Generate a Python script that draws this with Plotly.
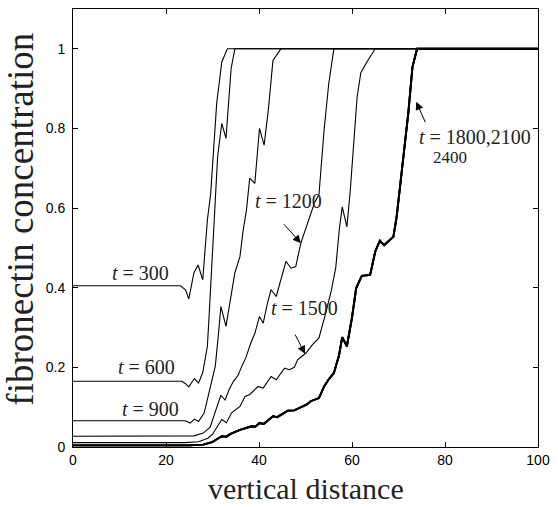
import plotly.graph_objects as go

# Fibronectin concentration profiles along the vertical distance at several times.
# Each profile: (distance, concentration) samples.
x_t300 = [0, 23.1, 24.2, 24.9, 26.0, 26.9, 27.9, 28.4, 28.9, 29.6, 30.9, 32.0, 33.2, 100]
y_t300 = [0.405, 0.405, 0.395, 0.372, 0.437, 0.457, 0.420, 0.503, 0.570, 0.635, 0.863, 0.967, 1.0, 1.0]

x_t600 = [0, 23.4, 24.2, 24.9, 26.1, 27.0, 27.9, 28.4, 28.9, 29.3, 29.8, 30.2, 30.6, 31.1, 32.0, 32.9, 34.0, 34.8, 100]
y_t600 = [0.165, 0.165, 0.159, 0.151, 0.172, 0.161, 0.187, 0.219, 0.253, 0.336, 0.460, 0.560, 0.620, 0.729, 0.813, 0.775, 0.950, 1.0, 1.0]

x_t900 = [0, 24.0, 24.5, 25.2, 26.1, 27.0, 28.2, 28.9, 29.5, 30.6, 31.3, 31.8, 32.9, 33.8, 34.8, 35.9, 36.6, 37.3, 38.0, 39.1, 40.1, 41.1, 42.0, 43.0, 44.7, 100]
y_t900 = [0.066, 0.066, 0.064, 0.060, 0.070, 0.064, 0.085, 0.120, 0.144, 0.203, 0.286, 0.353, 0.303, 0.370, 0.437, 0.478, 0.545, 0.595, 0.675, 0.662, 0.800, 0.758, 0.846, 0.971, 1.0, 1.0]

x_t1200 = [0, 24.0, 26.0, 28.0, 29.5, 30.5, 31.1, 31.8, 32.7, 33.6, 34.5, 35.5, 36.2, 37.2, 38.2, 39.1, 40.1, 40.9, 41.8, 42.6, 43.7, 44.7, 45.8, 46.9, 47.9, 49.0, 50.4, 51.9, 52.9, 54.0, 55.0, 56.1, 100]
y_t1200 = [0.027, 0.027, 0.028, 0.035, 0.050, 0.085, 0.105, 0.130, 0.118, 0.145, 0.165, 0.180, 0.200, 0.225, 0.260, 0.285, 0.328, 0.311, 0.360, 0.395, 0.378, 0.420, 0.466, 0.449, 0.453, 0.512, 0.562, 0.612, 0.635, 0.796, 0.913, 1.0, 1.0]

x_t1500 = [0, 24.0, 27.0, 29.0, 30.0, 31.1, 32.0, 33.0, 34.1, 35.9, 37.0, 38.0, 39.8, 40.9, 42.6, 43.7, 45.5, 46.5, 47.6, 48.3, 50.1, 51.5, 52.9, 54.2, 55.5, 56.5, 57.3, 57.9, 58.9, 59.6, 60.4, 61.1, 61.9, 63.2, 65.0, 100]
y_t1500 = [0.011, 0.011, 0.013, 0.022, 0.032, 0.052, 0.069, 0.061, 0.086, 0.102, 0.127, 0.132, 0.152, 0.148, 0.177, 0.169, 0.198, 0.194, 0.200, 0.219, 0.236, 0.257, 0.274, 0.330, 0.390, 0.450, 0.550, 0.603, 0.553, 0.640, 0.780, 0.879, 0.940, 0.967, 1.0, 1.0]

# Late times (t = 1800, 2100, 2400) share the same converged profile
x_late = [0, 25.0, 28.0, 29.9, 31.0, 32.0, 33.0, 33.9, 35.9, 37.0, 38.4, 39.2, 40.1, 41.0, 43.0, 43.9, 46.2, 47.6, 49.4, 50.3, 51.1, 52.9, 54.0, 55.0, 56.1, 56.8, 57.2, 57.9, 58.9, 60.0, 60.9, 62.1, 63.9, 65.0, 66.0, 66.9, 68.9, 69.6, 71.0, 72.1, 73.0, 74.0, 100]
y_late = [0.004, 0.004, 0.006, 0.012, 0.020, 0.027, 0.026, 0.033, 0.043, 0.047, 0.052, 0.051, 0.060, 0.058, 0.077, 0.075, 0.0915, 0.092, 0.102, 0.107, 0.115, 0.123, 0.152, 0.170, 0.186, 0.211, 0.230, 0.276, 0.253, 0.325, 0.399, 0.430, 0.432, 0.491, 0.518, 0.507, 0.528, 0.578, 0.729, 0.838, 0.954, 1.0, 1.0]

x_ticks = [0, 20, 40, 60, 80, 100]
y_ticks = [0, 0.2, 0.4, 0.6, 0.8, 1]
y_tick_text = ["0", "0.2", "0.4", "0.6", "0.8", "1"]

SERIF = "Liberation Serif"
SANS = "Liberation Sans"

fig = go.Figure()

profiles = [
    ("t=300", x_t300, y_t300, 1.1),
    ("t=600", x_t600, y_t600, 1.1),
    ("t=900", x_t900, y_t900, 1.1),
    ("t=1200", x_t1200, y_t1200, 1.1),
    ("t=1500", x_t1500, y_t1500, 1.1),
    ("t=1800", x_late, y_late, 1.9),
    ("t=2100", x_late, y_late, 1.9),
    ("t=2400", x_late, y_late, 1.9),
]
for name, xs, ys, w in profiles:
    fig.add_trace(go.Scatter(x=xs, y=ys, mode="lines", name=name,
                             line=dict(color="black", width=w), showlegend=False))

# Curve labels
labels = [
    ("<i>t</i> = 300", 14.5, 0.438, 20),
    ("<i>t</i> = 600", 15.9, 0.201, 20),
    ("<i>t</i> = 900", 16.6, 0.096, 20),
    ("<i>t</i> = 1200", 46.4, 0.619, 20),
    ("<i>t</i> = 1500", 49.8, 0.349, 20),
    ("<i>t</i> = 1800,2100", 86.4, 0.778, 20),
    ("2400", 81.1, 0.728, 17),
]
for text, lx, ly, fs in labels:
    fig.add_annotation(x=lx, y=ly, xref="x", yref="y", text=text, showarrow=False,
                       font=dict(family=SERIF, size=fs, color="#222"))

# Arrows pointing at the labelled curves
arrows = [
    (45.1, 0.563, 49.0, 0.512),
    (47.6, 0.286, 49.9, 0.234),
    (75.9, 0.812, 73.8, 0.867),
]
for tx, ty, hx, hy in arrows:
    fig.add_annotation(x=hx, y=hy, ax=tx, ay=ty, xref="x", yref="y", axref="x", ayref="y",
                       text="", showarrow=True, arrowhead=2, arrowsize=1.6,
                       arrowwidth=1, arrowcolor="black", standoff=0)

# Axis titles
fig.add_annotation(x=0.5, y=-0.136, xref="paper", yref="paper", text="vertical distance",
                   showarrow=False, font=dict(family=SERIF, size=30, color="#222"),
                   xanchor="center", yanchor="bottom")
fig.add_annotation(x=-0.113, y=0.52, xref="paper", yref="paper", text="fibronectin concentration",
                   showarrow=False, textangle=-90, font=dict(family=SERIF, size=37, color="#222"),
                   xanchor="center", yanchor="middle")

axis_common = dict(showline=True, linecolor="black", linewidth=1, mirror="ticks",
                   ticks="inside", ticklen=5, tickcolor="black", tickwidth=1,
                   showgrid=False, zeroline=False,
                   tickfont=dict(family=SANS, size=14, color="black"))

fig.update_xaxes(range=[0, 100], tickvals=x_ticks, ticktext=[str(v) for v in x_ticks],
                 **axis_common)
fig.update_yaxes(range=[0, 1.1], tickvals=y_ticks, ticktext=y_tick_text,
                 ticklabelstandoff=4, **axis_common)

fig.update_layout(width=558, height=507, paper_bgcolor="white", plot_bgcolor="white",
                  margin=dict(l=73, r=15, t=8, b=60), showlegend=False)

fig.write_html("out.html")
